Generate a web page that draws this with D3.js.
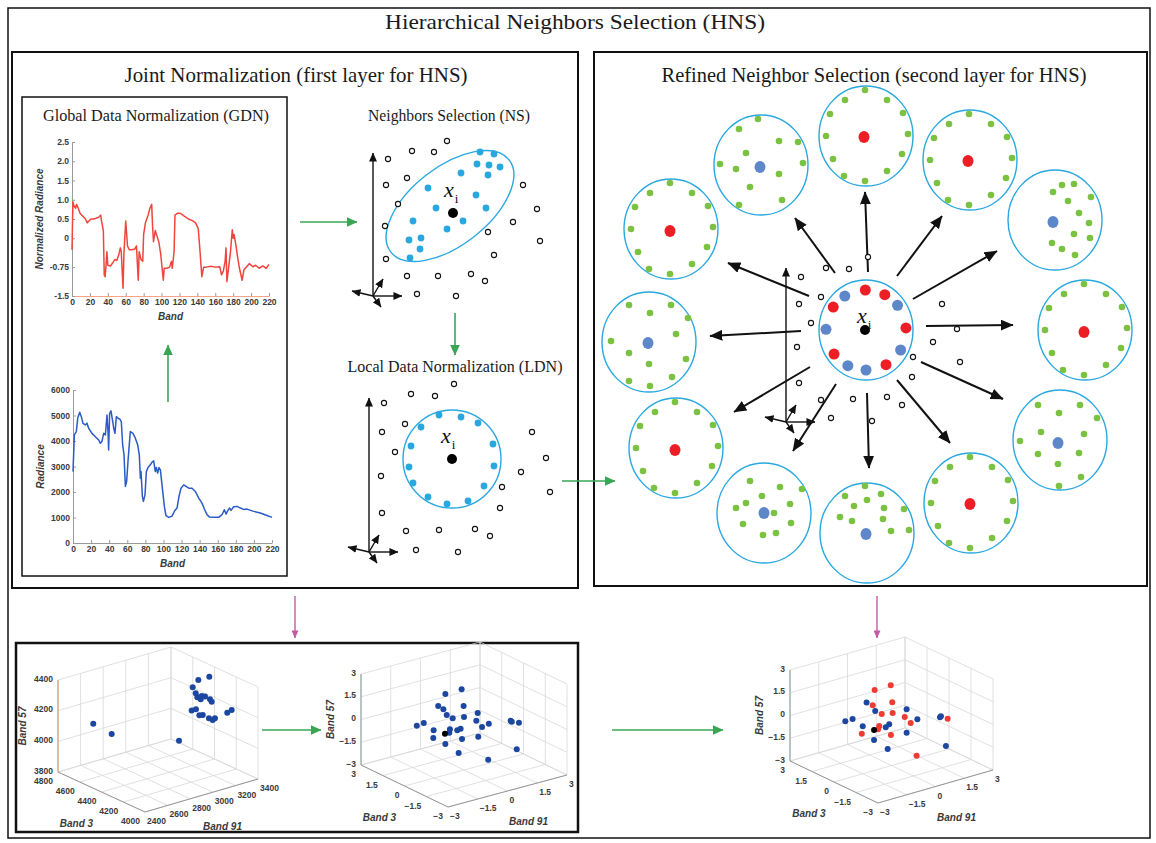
<!DOCTYPE html>
<meta charset="utf-8">
<script src="https://cdn.jsdelivr.net/npm/d3@7/dist/d3.min.js"></script>
<style>
body { margin: 0; background: #fff; }
.head { font-family: "Liberation Serif", "DejaVu Serif", serif; fill: #1a1a1a; text-anchor: middle; }
.frame { fill: none; stroke: #111; }
.spec text, .s3 text { font: bold 8.5px "Liberation Sans", Arial, sans-serif; fill: #3a3a3a; }
.spec .domain, .spec .tick line { stroke: #9a9a9a; }
.atitle { font: italic bold 10px "Liberation Sans", Arial, sans-serif; fill: #3a3a3a; text-anchor: middle; }
.grid { stroke: #d8d8d8; stroke-width: 0.8; }
.other { fill: #fff; stroke: #111; stroke-width: 1.1; }
.ring { fill: none; stroke: #29a8e0; stroke-width: 1.4; }
.xi { font-family: "Liberation Serif", "DejaVu Serif", serif; fill: #111; }
</style>
<body>
<script>

// ---------- spectra (GDN and raw radiance) ----------
var bandTicks = [0, 20, 40, 60, 80, 100, 120, 140, 160, 180, 200, 220];
var gdnTicks = [-1.5, -0.75, 0, 0.5, 1, 1.5, 2, 2.5];
var gdnTickLabels = ["-1.5", "-0.75", "0", "0.5", "1.0", "1.5", "2.0", "2.5"];
var gdnSeries = [[0,-0.3],[1,0.95],[2,0.85],[4,0.78],[5,0.88],[7,0.78],[9,0.65],[11,0.6],[13,0.55],[15,0.5],[17,0.4],[19,0.45],[21,0.5],[24,0.5],[27,0.52],[30,0.55],[32,0.6],[33,0.45],[35,0.2],[36,-0.95],[37,-1.0],[38,-0.7],[39,-0.35],[40,-0.7],[43,-0.72],[46,-0.62],[48,-0.55],[50,-0.58],[52,-0.45],[54,-0.25],[55,-0.35],[57,-1.3],[58,-0.4],[60,0.45],[62,-0.2],[64,-0.3],[67,-0.3],[70,-0.28],[72,-0.2],[74,-1.09],[75,-0.35],[77,-0.55],[79,-0.6],[80,0.1],[82,0.4],[85,0.6],[87,0.78],[89,0.88],[90,0.3],[91,-0.09],[93,0.2],[95,0.05],[97,-0.1],[99,-0.4],[102,-1.09],[103,-0.78],[106,-0.78],[109,-0.75],[111,-0.6],[112,-0.78],[114,-0.35],[115,0.6],[118,0.65],[121,0.65],[125,0.58],[130,0.5],[135,0.45],[138,0.4],[141,0.25],[143,-0.35],[145,-1.0],[147,-0.75],[150,-0.75],[155,-0.73],[160,-0.75],[165,-0.74],[167,-0.95],[169,-0.85],[171,-0.6],[172,-0.25],[173,-1.13],[175,-0.74],[177,-0.35],[179,0.22],[180,0.0],[181,0.1],[183,-0.17],[185,-0.5],[187,-0.78],[190,-1.09],[192,-0.82],[195,-0.74],[198,-0.66],[202,-0.74],[205,-0.7],[209,-0.78],[213,-0.72],[217,-0.78],[220,-0.68]];
var radianceTicks = [0, 1000, 2000, 3000, 4000, 5000, 6000];
var radianceSeries = [[0,2800],[1.5,4240],[3.7,4370],[5.2,4890],[7.4,5125],[9.2,4955],[11,4690],[13.6,4630],[15.5,4700],[17.3,4500],[21,4300],[24.7,4170],[28.4,4040],[30.2,3910],[32,3980],[33.9,4300],[35.8,4240],[37.6,5020],[38.7,4370],[39.4,3650],[40.5,5085],[42,5180],[43.9,4760],[45,4500],[46.4,4300],[47.9,4955],[49.8,4890],[51.6,4865],[53.4,4760],[54.9,3850],[56.4,3460],[57.9,2220],[59.3,2410],[60.8,3195],[61.9,3720],[63.4,4370],[66.3,4300],[68.9,4110],[71.5,3850],[73.3,3460],[74.5,2540],[75.2,2800],[76.7,1830],[77.8,1630],[79.6,1890],[81.1,2800],[82.9,2960],[85.5,3065],[87.4,3170],[89.2,3220],[91,2800],[92.1,2960],[93.6,2740],[95.1,2960],[96.6,2870],[98.4,2280],[101,1435],[102.8,1070],[105.8,1005],[109.5,1055],[112.4,1265],[115,1370],[117.2,1825],[119.4,2150],[122.4,2280],[125,2220],[128,2150],[131.6,2150],[135.3,2020],[139,1760],[142.6,1565],[145.6,1305],[148.2,1110],[151,1015],[155.5,1005],[161,1005],[164.8,1110],[167.3,1305],[169.2,1135],[171,1265],[173.2,1370],[174.7,1280],[177.7,1420],[181.3,1435],[185,1370],[188.7,1317],[192.4,1330],[199.8,1240],[207,1175],[214.5,1080],[220,1005]];

// ---------- NS and LDN panels (offsets from x_i) ----------
var nsNeighbors = [[27,-61],[41,-59],[24,-49],[36,-48],[47,-46],[8,-40],[35,-38],[-25,-25],[23,-18],[-17,-5],[33,-5],[-40,8],[10,8],[-6,16],[-44,27],[-32,25],[-33,36],[-43,45]];
var nsOthers = [[-6,-72],[-41,-62],[-19,-61],[-65,-54],[-46,-35],[-67,-28],[-55,-9],[70,-28],[84,-4],[60,9],[-68,13],[35,19],[87,28],[41,42],[-67,46],[-46,63],[-15,63],[18,61],[32,68],[-36,81],[3,83]];
var ldnNeighbors = [[-13,-44],[9,-42],[26,-36],[-31,-32],[41,-15],[-41,-13],[42,7],[-43,8],[32,27],[-39,24],[-24,38],[-5,45],[16,42]];
var ldnOthers = [[2,-75],[-41,-65],[-17,-63],[-68,-56],[-47,-35],[-70,-27],[80,-27],[-57,-7],[94,-1],[69,13],[-71,17],[50,28],[98,33],[48,49],[-70,54],[-46,72],[-13,71],[23,70],[38,77],[-36,91],[6,93]];
var axisGlyph = [[29,0],[-21,-5],[10,-17],[8,11]];

// ---------- refined neighbour selection (offsets from hub x_i) ----------
var hubDots = [[-122,"blue"],[-91,"red"],[-62,"red"],[-38,"blue"],[-3,"red"],[30,"blue"],[60,"red"],[90,"blue"],[117,"blue"],[143,"red"],[181,"blue"],[215,"red"]];
var hubOthers = [[-40,-62],[-17,-61],[2,-73],[-65,-53],[-45,-33],[-67,-26],[-55,-7],[-69,17],[-67,53],[-45,70],[-35,88],[-13,69],[6,91],[21,67],[36,75],[46,47],[47,27],[67,12],[76,-26],[91,-1],[94,32]];
var hubArrows = [[2,-58,-1,-138],[-31,-57,-71,-112],[31,-54,76,-114],[-57,-34,-138,-67],[47,-31,131,-79],[-65,1,-156,6],[60,-4,147,-5],[-56,37,-132,82],[55,32,137,69],[-30,54,-73,121],[1,63,3,138],[31,50,84,113]];
var ringDots = [[-1,-46],[-21,-36],[21,-36],[-36,-22],[37,-23],[-40,0],[42,-2],[-33,23],[36,18],[-22,40],[-1,45],[21,35]];
var dotsB = [[-3,-46],[-22,-36],[18,-24],[37,-23],[-15,-12],[-41,-1],[-25,4],[42,-2],[18,9],[-11,22],[-22,40],[21,35]];
var dotsE = [[-2,-28],[7,-35],[19,-36],[36,-23],[13,-19],[24,-7],[34,3],[19,14],[35,18],[-3,23],[7,29],[20,35]];
var dotsL = [[-20,-37],[22,-37],[1,-29],[39,-24],[27,-8],[-38,-1],[-20,11],[0,22],[37,17],[-20,39],[1,44],[23,35]];
var dotsJ = [[-22,-35],[20,-35],[-1,-27],[37,-22],[-19,-8],[24,-6],[-40,1],[-22,14],[19,13],[-2,24],[21,37],[-1,46]];
var dotsG = [[-14,-32],[16,-26],[38,-24],[-2,-17],[-18,-10],[-28,-5],[26,-9],[10,0],[-21,11],[27,10],[-1,22],[12,20]];
var dotsH = [[-2,-47],[-22,-37],[14,-39],[0,-33],[-13,-27],[17,-25],[37,-24],[-27,-16],[-15,-12],[16,-14],[24,-2],[42,-3]];
var clusterOffsets = [[0,-194],[-105,-165],[104,-170],[-195,-101],[189,-110],[-217,12],[219,0],[-190,118],[194,110],[-102,183],[105,173],[1,203]];
var clusterKinds = ["red","blue","red","red","blue","blue","red","red","blue","blue","red","blue"];
var clusterDots = [ringDots, dotsB, ringDots, ringDots, dotsE, dotsL, ringDots, ringDots, dotsJ, dotsG, ringDots, dotsH];
var clusterCentreDots = [[-2,1],[-1,2],[-2,1],[-1,2],[-2,2],[-1,1],[-1,2],[-1,2],[-2,3],[0,0],[-1,1],[-1,1]];

// ---------- 3-D scatter plots [Band 3, Band 91, Band 57] ----------
var rawTicks3 = [4000, 4200, 4400, 4600, 4800];
var rawTicks91 = [2400, 2600, 2800, 3000, 3200, 3400];
var rawTicks57 = [3800, 4000, 4200, 4400];
var normTicks = [-3, -1.5, 0, 1.5, 3];
var rawPoints = [[4720,2635,4090],[4720,2798,3988],[4400,3086,3987],[4400,3257,4346],[4400,3354,4347],[4400,3207,4309],[4400,3234,4264],[4400,3248,4235],[4400,3287,4235],[4400,3316,4225],[4400,3278,4216],[4400,3360,4198],[4400,3375,4179],[4400,3198,4159],[4400,3236,4159],[4400,3266,4114],[4400,3296,4109],[4400,3351,4076],[4400,3384,4057],[4240,3250,4150],[4160,3282,4206],[4160,3321,4215]];
var rawCentre = [[4400,3298,4227]];
var normPoints = [[0,-0.12,2.36],[0,-0.94,2.34],[0,-1.30,1.68],[0,-0.02,1.23],[0,-1.04,1.37],[0,-0.87,0.93],[0,-0.57,0.61],[0,0.0,0.49],[0,0.69,0.51],[0,-2.38,0.76],[0,-2.03,0.81],[0,0.62,0.03],[0,-1.53,0.16],[0,-0.71,-0.07],[0,-0.34,-0.26],[0,-0.17,-0.22],[0,0.91,-0.48],[0,1.25,-0.39],[0,2.35,-0.58],[0,2.41,-0.66],[0,2.77,-0.86],[0,-1.55,-0.34],[0,-0.10,-0.92],[0,0.72,-1.06],[0,-0.94,-0.95],[0,-0.27,-1.79],[0,1.22,-2.75],[0,2.66,-2.57],[0,-0.74,-0.28]];
var normCentre = [[0,-0.96,-0.27]];
var refinedBlue = [[0,-1.30,1.63],[0,-0.85,0.90],[0,-2.41,0.79],[0,-2.03,0.80],[0,-1.50,0.13],[0,-0.30,-0.37],[0,-0.12,-0.24],[0,0.79,0.42],[0,1.35,-0.44],[0,0.79,-1.13],[0,-0.91,-0.99],[0,-0.20,-1.84],[0,2.53,-0.74],[0,2.58,-0.69],[0,2.84,-2.74]];
var refinedRed = [[0,-0.04,2.30],[0,-0.88,2.29],[0,0.04,1.15],[0,-0.98,1.33],[0,-0.51,0.58],[0,0.06,0.44],[0,0.69,-0.05],[0,1.00,-0.56],[0,-0.64,-0.17],[0,-0.70,-0.36],[0,-1.55,-0.34],[0,-0.03,-0.98],[0,1.31,-2.83],[0,2.93,-0.98]];
var refinedCentre = [[0,-0.91,-0.33]];

var CYAN = "#29a8e0", GREEN = "#7cc242", RED = "#ec1f26", HUBBLUE = "#5d87c8";

var svg = d3.select("body").append("svg")
    .attr("width", 1156)
    .attr("height", 843);
var defs = svg.append("defs");

function makeMarker(id, color, len, wid) {
  defs.append("marker")
      .attr("id", id)
      .attr("viewBox", "0 0 10 10")
      .attr("refX", 9.5).attr("refY", 5)
      .attr("markerUnits", "userSpaceOnUse")
      .attr("markerWidth", len).attr("markerHeight", wid)
      .attr("preserveAspectRatio", "none")
      .attr("orient", "auto")
    .append("path")
      .attr("d", "M0,0L10,5L0,10z")
      .attr("fill", color);
}
makeMarker("ah", "#111", 13, 11);
makeMarker("ahs", "#111", 9, 8);
makeMarker("ahg", "#3aa655", 11, 10);
makeMarker("ahp", "#c45aa6", 8, 7);

function arrow(g, x1, y1, x2, y2, color, w, mk) {
  g.append("line")
      .attr("x1", x1).attr("y1", y1).attr("x2", x2).attr("y2", y2)
      .attr("stroke", color).attr("stroke-width", w)
      .attr("marker-end", "url(#" + mk + ")");
}

function heading(txt, cx, y, size, len) {
  svg.append("text").attr("class", "head")
      .attr("x", cx).attr("y", y)
      .attr("font-size", size)
      .attr("textLength", len).attr("lengthAdjust", "spacingAndGlyphs")
      .text(txt);
}

function xiLabel(g, x, y, size) {
  var t = g.append("text").attr("class", "xi").attr("x", x).attr("y", y);
  t.append("tspan").attr("font-size", size).attr("font-style", "italic").text("x");
  t.append("tspan").attr("font-size", size * 0.6).attr("dy", size * 0.28).attr("dx", 1).text("i");
}

// ---------- frames & headings ----------
svg.append("rect").attr("class", "frame").attr("x", 8).attr("y", 8).attr("width", 1142).attr("height", 830).attr("stroke-width", 1.5);
svg.append("rect").attr("class", "frame").attr("x", 12).attr("y", 52).attr("width", 566).attr("height", 536).attr("stroke-width", 2);
svg.append("rect").attr("class", "frame").attr("x", 594).attr("y", 52).attr("width", 553).attr("height", 534).attr("stroke-width", 2);
svg.append("rect").attr("class", "frame").attr("x", 22).attr("y", 97).attr("width", 265).attr("height", 479).attr("stroke-width", 1.5);
svg.append("rect").attr("class", "frame").attr("x", 16).attr("y", 643).attr("width", 562).attr("height", 189).attr("stroke-width", 2.5);

heading("Hierarchical Neighbors Selection (HNS)", 575, 29, 21, 380);
heading("Joint Normalization (first layer for HNS)", 296, 82, 21, 343);
heading("Refined Neighbor Selection (second layer for HNS)", 874, 82, 21, 425);
heading("Global Data Normalization (GDN)", 156, 121, 17, 226);
heading("Neighbors Selection (NS)", 449, 121, 16, 162);
heading("Local Data Normalization (LDN)", 455, 372, 17, 215);

// ---------- spectra ----------
function spectrum(cfg) {
  var x = d3.scaleLinear().domain([0, 220]).range([cfg.x0, cfg.x1]);
  var y = d3.scaleLinear().domain(cfg.yDomain).range([cfg.y0, cfg.y1]);
  var g = svg.append("g").attr("class", "spec");
  g.append("g")
      .attr("transform", "translate(0," + cfg.y0 + ")")
      .call(d3.axisBottom(x).tickValues(bandTicks).tickSize(-3).tickSizeOuter(0).tickPadding(3))
      .select(".domain").style("stroke", cfg.xAxisColor);
  g.append("g")
      .attr("transform", "translate(" + cfg.x0 + ",0)")
      .call(d3.axisLeft(y).tickValues(cfg.ticks).tickFormat(cfg.fmt).tickSize(-3).tickSizeOuter(0).tickPadding(3));
  g.append("path")
      .datum(cfg.data)
      .attr("fill", "none")
      .attr("stroke", cfg.color)
      .attr("stroke-width", 1.5)
      .attr("stroke-linejoin", "round")
      .attr("d", d3.line().x(function(d) { return x(d[0]); }).y(function(d) { return y(d[1]); }));
  svg.append("text").attr("class", "atitle").attr("x", (cfg.x0 + cfg.x1) / 2).attr("y", cfg.y0 + 24).text("Band");
  svg.append("text").attr("class", "atitle")
      .attr("transform", "translate(" + (cfg.x0 - 29) + "," + ((cfg.y0 + cfg.y1) / 2) + ") rotate(-90)")
      .text(cfg.ylabel);
}

spectrum({x0: 72, x1: 269, y0: 296, y1: 142, yDomain: [-1.5, 2.5], ticks: gdnTicks,
  fmt: function(d, i) { return gdnTickLabels[i]; }, data: gdnSeries, color: "#f0443c",
  xAxisColor: "#f2a488", ylabel: "Normalized Radiance"});
spectrum({x0: 73, x1: 272, y0: 543, y1: 390, yDomain: [0, 6000], ticks: radianceTicks,
  fmt: d3.format("d"), data: radianceSeries, color: "#2a5bc6",
  xAxisColor: "#9a9a9a", ylabel: "Radiance"});

// ---------- NS / LDN ----------
function offsetScales(cx, cy) {
  return {
    x: d3.scaleLinear().domain([-100, 100]).range([cx - 100, cx + 100]),
    y: d3.scaleLinear().domain([-100, 100]).range([cy - 100, cy + 100])
  };
}

function axesGlyph(ox, oy, vlen) {
  var g = svg.append("g");
  arrow(g, ox, oy, ox, oy - vlen, "#111", 1.4, "ahs");
  axisGlyph.forEach(function(v) { arrow(g, ox, oy, ox + v[0], oy + v[1], "#111", 1.4, "ahs"); });
}

function panel(cx, cy, neighbors, others, shape) {
  var s = offsetScales(cx, cy), g = svg.append("g");
  if (shape.rx) {
    g.append("ellipse").attr("class", "ring")
        .attr("transform", "translate(" + s.x(shape.dx) + "," + s.y(shape.dy) + ") rotate(" + shape.rot + ")")
        .attr("rx", shape.rx).attr("ry", shape.ry);
  } else {
    g.append("circle").attr("class", "ring").attr("cx", cx).attr("cy", cy).attr("r", shape.r);
  }
  g.selectAll("circle.o").data(others).enter().append("circle").attr("class", "other")
      .attr("cx", function(d) { return s.x(d[0]); }).attr("cy", function(d) { return s.y(d[1]); }).attr("r", 2.6);
  g.selectAll("circle.n").data(neighbors).enter().append("circle")
      .attr("cx", function(d) { return s.x(d[0]); }).attr("cy", function(d) { return s.y(d[1]); })
      .attr("r", 3.4).attr("fill", CYAN);
  g.append("circle").attr("cx", cx).attr("cy", cy).attr("r", 5).attr("fill", "#000");
  return g;
}

axesGlyph(373, 296, 143);
var ns = panel(453, 213, nsNeighbors, nsOthers, {dx: -3, dy: -7, rx: 75, ry: 39, rot: -38});
xiLabel(ns, 444, 197, 22);
axesGlyph(369, 552, 154);
var ldn = panel(452, 459, ldnNeighbors, ldnOthers, {r: 49});
xiLabel(ldn, 441, 443, 22);

// ---------- refined selection ----------
var hs = offsetScales(866, 330);
axesGlyph(786, 422, 154);
var hubG = svg.append("g");
hubArrows.forEach(function(a) {
  arrow(hubG, hs.x(a[0]), hs.y(a[1]), hs.x(a[2]), hs.y(a[3]), "#111", 2, "ah");
});
hubG.selectAll("circle.o").data(hubOthers).enter().append("circle").attr("class", "other")
    .attr("cx", function(d) { return hs.x(d[0]); }).attr("cy", function(d) { return hs.y(d[1]); }).attr("r", 2.6);
hubG.append("ellipse").attr("class", "ring").attr("cx", hs.x(0)).attr("cy", hs.y(0)).attr("rx", 47).attr("ry", 50);
hubG.selectAll("circle.h").data(hubDots).enter().append("circle")
    .attr("cx", function(d) { return hs.x(40 * Math.cos(d[0] * Math.PI / 180)); })
    .attr("cy", function(d) { return hs.y(40 * Math.sin(d[0] * Math.PI / 180)); })
    .attr("r", 5.5)
    .attr("fill", function(d) { return d[1] == "red" ? RED : HUBBLUE; });
hubG.append("circle").attr("cx", hs.x(-1)).attr("cy", hs.y(0)).attr("r", 5).attr("fill", "#000");
xiLabel(hubG, 857, 323, 22);

clusterOffsets.forEach(function(c, i) {
  var cs = offsetScales(hs.x(c[0]), hs.y(c[1]));
  var g = svg.append("g");
  g.append("ellipse").attr("class", "ring").attr("cx", cs.x(0)).attr("cy", cs.y(0)).attr("rx", 47).attr("ry", 50);
  g.selectAll("circle").data(clusterDots[i]).enter().append("circle")
      .attr("cx", function(d) { return cs.x(d[0]); }).attr("cy", function(d) { return cs.y(d[1]); })
      .attr("r", 3.3).attr("fill", GREEN);
  var cd = clusterCentreDots[i];
  g.append("ellipse").attr("cx", cs.x(cd[0])).attr("cy", cs.y(cd[1])).attr("rx", 5.5).attr("ry", 6)
      .attr("fill", clusterKinds[i] == "red" ? RED : HUBBLUE);
});

// ---------- flow arrows ----------
var flow = svg.append("g");
arrow(flow, 300, 222, 357, 222, "#3aa655", 1.6, "ahg");
arrow(flow, 455, 313, 455, 355, "#3aa655", 1.6, "ahg");
arrow(flow, 168, 402, 168, 345, "#3aa655", 1.6, "ahg");
arrow(flow, 562, 481, 615, 481, "#3aa655", 1.6, "ahg");
arrow(flow, 262, 730, 321, 730, "#3aa655", 1.6, "ahg");
arrow(flow, 612, 730, 723, 730, "#3aa655", 1.6, "ahg");
arrow(flow, 295, 596, 295, 638, "#c45aa6", 1.4, "ahp");
arrow(flow, 877, 596, 877, 638, "#c45aa6", 1.4, "ahp");

// ---------- 3-D scatters ----------
function scatter3(cfg) {
  var u = d3.scaleLinear().domain(d3.extent(cfg.t3)).range([0, 1]);
  var v = d3.scaleLinear().domain(d3.extent(cfg.t91)).range([0, 1]);
  var w = d3.scaleLinear().domain(d3.extent(cfg.t57)).range([0, 1]);
  function P(a, b, c) {
    return [cfg.F[0] + u(a) * cfg.e3[0] + v(b) * cfg.e91[0],
            cfg.F[1] + u(a) * cfg.e3[1] + v(b) * cfg.e91[1] - w(c) * cfg.h];
  }
  var a0 = u.domain()[0], a1 = u.domain()[1], b0 = v.domain()[0], b1 = v.domain()[1], c0 = w.domain()[0], c1 = w.domain()[1];
  var segs = [];
  cfg.t3.forEach(function(t) { segs.push([P(t, b0, c0), P(t, b1, c0)]); segs.push([P(t, b1, c0), P(t, b1, c1)]); });
  cfg.t91.forEach(function(t) { segs.push([P(a0, t, c0), P(a1, t, c0)]); segs.push([P(a1, t, c0), P(a1, t, c1)]); });
  cfg.t57.forEach(function(t) { segs.push([P(a1, b0, t), P(a1, b1, t)]); segs.push([P(a1, b1, t), P(a0, b1, t)]); });
  var g = svg.append("g").attr("class", "s3");
  g.selectAll("line.grid").data(segs).enter().append("line").attr("class", "grid")
      .attr("x1", function(d) { return d[0][0]; }).attr("y1", function(d) { return d[0][1]; })
      .attr("x2", function(d) { return d[1][0]; }).attr("y2", function(d) { return d[1][1]; });
  var e1 = P(a0, b0, c0), e2 = P(a1, b0, c0), e3 = P(a0, b1, c0), z1 = P(a1, b0, c1);
  g.append("path").attr("fill", "none").attr("stroke", "#8c8c8c").attr("stroke-width", 0.9)
      .attr("d", "M" + e2 + "L" + e1 + "L" + e3);
  g.append("line").attr("stroke", cfg.zColor).attr("stroke-width", 1)
      .attr("x1", e2[0]).attr("y1", e2[1]).attr("x2", z1[0]).attr("y2", z1[1]);
  cfg.t57.forEach(function(t) {
    var p = P(a1, b0, t);
    g.append("text").attr("x", p[0] - 5).attr("y", p[1] + 1.5).attr("text-anchor", "end").text(cfg.f(t));
  });
  cfg.t3.forEach(function(t) {
    var p = P(t, b0, c0);
    g.append("text").attr("x", p[0] - 5).attr("y", p[1] + 12).attr("text-anchor", "end").text(cfg.f(t));
  });
  cfg.t91.forEach(function(t) {
    var p = P(a0, t, c0);
    g.append("text").attr("x", p[0] + 2).attr("y", p[1] + 12).attr("text-anchor", "start").text(cfg.f(t));
  });
  var m3 = P((a0 + a1) / 2, b0, c0), m91 = P(a0, (b0 + b1) / 2, c0), mz = P(a1, b0, (c0 + c1) / 2);
  svg.append("text").attr("class", "atitle").attr("x", m3[0] - 25).attr("y", m3[1] + 35).text("Band 3");
  svg.append("text").attr("class", "atitle").attr("x", m91[0] + 21).attr("y", m91[1] + 34).text("Band 91");
  svg.append("text").attr("class", "atitle")
      .attr("transform", "translate(" + (mz[0] - cfg.zOff) + "," + mz[1] + ") rotate(-90)").text("Band 57");
  cfg.series.forEach(function(s) {
    g.selectAll(null).data(s.data).enter().append("circle")
        .attr("cx", function(d) { return P(d[0], d[1], d[2])[0]; })
        .attr("cy", function(d) { return P(d[0], d[1], d[2])[1]; })
        .attr("r", s.r || 3).attr("fill", s.color);
  });
}

var normFmt = function(d) { return d == 0 ? "0" : d3.format("")(d); };
scatter3({F: [145, 812], e3: [-87, -40], e91: [113, -33], h: 92,
  t3: rawTicks3, t91: rawTicks91, t57: rawTicks57, f: d3.format("d"), zColor: "#d98a5a", zOff: 32,
  series: [{data: rawCentre, color: "#000", r: 2.2}, {data: rawPoints, color: "#1c47a0"}]});
scatter3({F: [448, 807], e3: [-87, -42], e91: [119, -32], h: 91,
  t3: normTicks, t91: normTicks, t57: normTicks, f: normFmt, zColor: "#7f9a9a", zOff: 27,
  series: [{data: normPoints, color: "#1c47a0"}, {data: normCentre, color: "#000"}]});
scatter3({F: [878, 803], e3: [-88, -42], e91: [115, -33], h: 91,
  t3: normTicks, t91: normTicks, t57: normTicks, f: normFmt, zColor: "#7f9a9a", zOff: 27,
  series: [{data: refinedBlue, color: "#1c47a0"}, {data: refinedRed, color: "#ee3b33"}, {data: refinedCentre, color: "#000"}]});

</script>
</body>
</html>
